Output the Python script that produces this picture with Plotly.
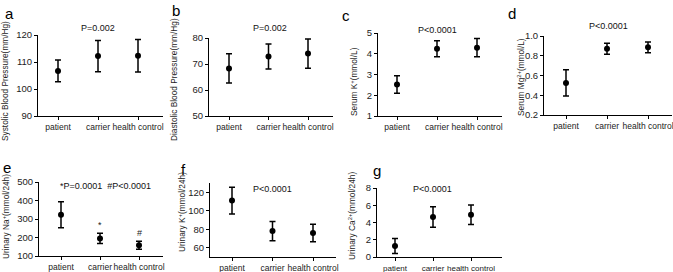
import plotly.graph_objects as go

W, H = 673, 272
groups = ["patient", "carrier", "health control"]

sbp_mean = [106.7, 112.2, 112.3]
sbp_sd = [4.0, 5.8, 6.0]
dbp_mean = [68.3, 72.9, 74.0]
dbp_sd = [5.6, 4.8, 5.6]
k_mean = [2.52, 4.24, 4.29]
k_sd = [0.42, 0.39, 0.44]
mg_mean = [0.525, 0.87, 0.885]
mg_sd = [0.132, 0.056, 0.054]
una_mean = [323, 195, 158]
una_sd = [70, 28, 22]
uk_mean = [111, 78, 76]
uk_sd = [14.5, 10.4, 9.5]
uca_mean = [1.27, 4.64, 4.9]
uca_sd = [0.87, 1.18, 1.14]

sig_marks = ["", "*", "#"]

FONT = "Liberation Sans, Arial, sans-serif"
BOLD = "Liberation Sans, Arial, sans-serif"

panels = [
    dict(letter="a", mean=sbp_mean, sd=sbp_sd, title="Systolic Blood Pressure(mm/Hg)", p="P=0.002",
         yr=[90, 120], dtick=10, fmt="", ax0=38, ax1=163, cat0=58, step=40, ytop=35, ybot=116,
         lpos=(9, 13), tpos=(5, 81), ppos=(98, 28), xfs=8.5),
    dict(letter="b", mean=dbp_mean, sd=dbp_sd, title="Diastolic Blood Pressure(mm/Hg)", p="P=0.002",
         yr=[50, 80], dtick=10, fmt="", ax0=209, ax1=333, cat0=229, step=39.5, ytop=38, ybot=116,
         lpos=(176, 11), tpos=(174, 80), ppos=(270, 28), xfs=8.5),
    dict(letter="c", mean=k_mean, sd=k_sd, title="Serum K<sup>+</sup>(mmol/L)", p="P<0.0001",
         yr=[1, 5], dtick=1, fmt="", ax0=378, ax1=502, cat0=397, step=40, ytop=33, ybot=116,
         lpos=(346, 15), tpos=(354, 82), ppos=(437, 30), xfs=8.5),
    dict(letter="d", mean=mg_mean, sd=mg_sd, title="Serum Mg<sup>2+</sup>(mmol/L)", p="P<0.0001",
         yr=[0.2, 1.0], dtick=0.2, fmt=".1f", ax0=544, ax1=672, cat0=566, step=41, ytop=36, ybot=115,
         lpos=(512, 13), tpos=(521, 77), ppos=(608, 26), xfs=8.5),
    dict(letter="e", mean=una_mean, sd=una_sd, title="Urinary Na<sup>+</sup>(mmol/24h)", p="*P=0.0001  #P<0.0001",
         yr=[100, 500], dtick=100, fmt="", ax0=39, ax1=163, cat0=61, step=39, ytop=182, ybot=256,
         lpos=(7, 167), tpos=(6, 217), ppos=(105, 186), xfs=8.5),
    dict(letter="f", mean=uk_mean, sd=uk_sd, title="Urinary K<sup>+</sup>(mmol/24h)", p="P<0.0001",
         yr=[50, 130], dtick=20, tick0=60, fmt="", ax0=210, ax1=336, cat0=232, step=40.5, ytop=183, ybot=257,
         lpos=(184, 169), tpos=(182, 212), ppos=(272, 189), xfs=8.5),
    dict(letter="g", mean=uca_mean, sd=uca_sd, title="Urinary Ca<sup>2+</sup>(mmol/24h)", p="P<0.0001",
         yr=[0, 8], dtick=2, fmt="", ax0=377, ax1=502, cat0=395, step=38, ytop=188, ybot=257,
         lpos=(377, 170), tpos=(352, 216), ppos=(432, 189), xfs=8),
]

fig = go.Figure()
annotations = []

def px(xp):
    return xp / W

def py(yp):
    return 1 - yp / H

for i, p in enumerate(panels):
    n = i + 1
    xa = "x" if n == 1 else f"x{n}"
    ya = "y" if n == 1 else f"y{n}"
    fig.add_trace(go.Scatter(
        x=groups, y=p["mean"], mode="markers",
        marker=dict(color="black", size=6),
        error_y=dict(type="data", array=p["sd"], visible=True, color="black", thickness=1.5, width=3),
        xaxis=xa, yaxis=ya, showlegend=False, cliponaxis=False, hoverinfo="skip",
    ))
    xr = [(p["ax0"] - p["cat0"]) / p["step"], (p["ax1"] - p["cat0"]) / p["step"]]
    xkey = "xaxis" if n == 1 else f"xaxis{n}"
    ykey = "yaxis" if n == 1 else f"yaxis{n}"
    fig.layout[xkey] = dict(
        domain=[px(p["ax0"]), px(p["ax1"])], range=xr, type="category",
        anchor=ya, showline=True, linecolor="black", linewidth=1,
        ticks="outside", ticklen=3, tickcolor="black", showgrid=False, zeroline=False,
        tickangle=0, automargin=False,
        tickfont=dict(family=FONT, size=p["xfs"], color="#222"),
    )
    yd = dict(
        domain=[py(p["ybot"]), py(p["ytop"])], range=p["yr"], anchor=xa,
        showline=True, linecolor="black", linewidth=1, ticks="outside", ticklen=3,
        tickcolor="black", showgrid=False, zeroline=False, dtick=p["dtick"],
        tick0=p.get("tick0", p["yr"][0]), automargin=False,
        tickfont=dict(family=FONT, size=9.5, color="#222"),
    )
    if p["fmt"]:
        yd["tickformat"] = p["fmt"]
    fig.layout[ykey] = yd

    annotations.append(dict(text=p["letter"], x=px(p["lpos"][0]), y=py(p["lpos"][1]), xref="paper", yref="paper",
                            showarrow=False, xanchor="center", yanchor="middle",
                            font=dict(family=BOLD, size=15, color="black")))
    annotations.append(dict(text=p["title"], x=px(p["tpos"][0]), y=py(p["tpos"][1]), xref="paper", yref="paper",
                            showarrow=False, xanchor="center", yanchor="middle", textangle=-90,
                            font=dict(family=FONT, size=8.3, color="#222")))
    annotations.append(dict(text=p["p"], x=px(p["ppos"][0]), y=py(p["ppos"][1]), xref="paper", yref="paper",
                            showarrow=False, xanchor="center", yanchor="middle",
                            font=dict(family=FONT, size=9, color="#111")))

for g, m, s, mark in zip(groups, una_mean, una_sd, sig_marks):
    if mark:
        annotations.append(dict(text=mark, x=g, y=m + s, xref="x5", yref="y5", showarrow=False,
                                xanchor="center", yanchor="bottom", yshift=1,
                                font=dict(family=FONT, size=9, color="#222")))

fig.update_layout(
    width=W, height=H, margin=dict(l=0, r=0, t=0, b=0),
    paper_bgcolor="white", plot_bgcolor="white",
    annotations=annotations, showlegend=False, hovermode=False,
)

fig.write_html("out.html", config={"displayModeBar": False, "staticPlot": True},
               post_script="document.body.style.margin='0';document.body.style.overflow='hidden';")
